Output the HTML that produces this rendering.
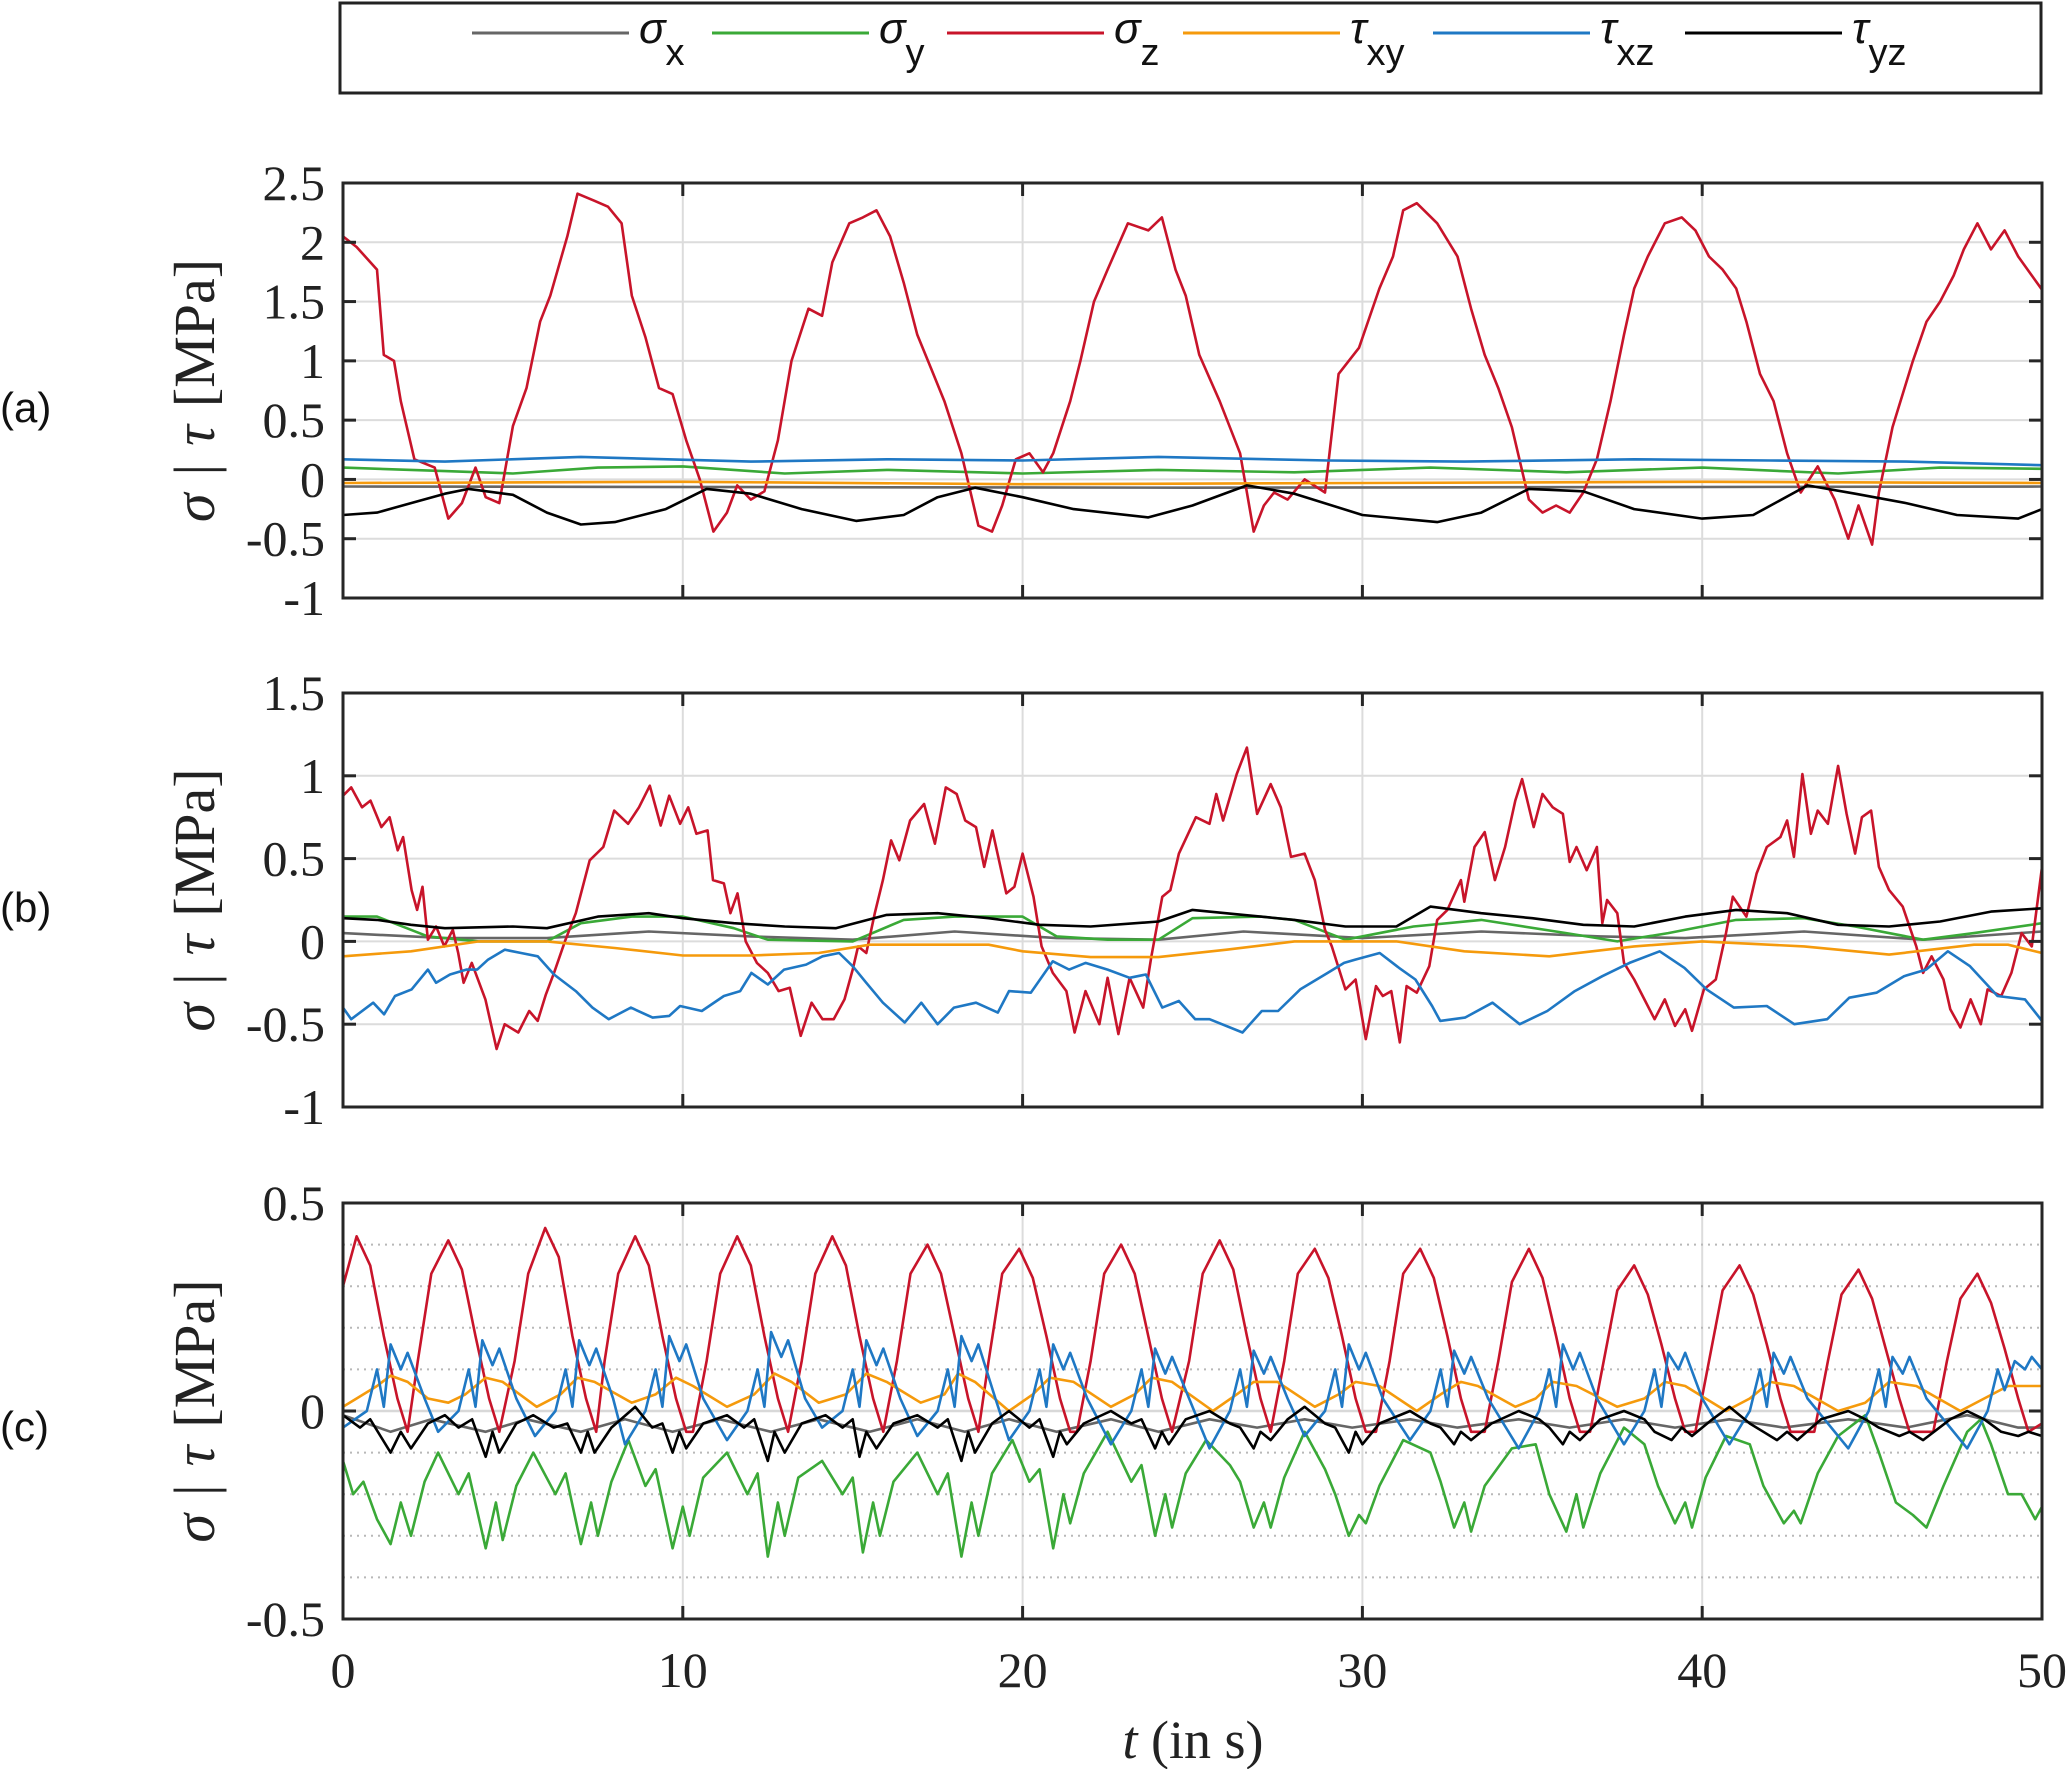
<!DOCTYPE html>
<html><head><meta charset="utf-8"><style>
html,body{margin:0;padding:0;background:#fff;}
svg{display:block;}
</style></head><body>
<svg id="fig" xmlns="http://www.w3.org/2000/svg" width="2067" height="1769" viewBox="0 0 2067 1769">
<rect x="0" y="0" width="2067" height="1769" fill="#fff"/>
<g id="legend">
<rect x="340" y="3" width="1701" height="90" fill="#fff" stroke="#222" stroke-width="3"/>
</g>
</svg>
<script>
// ---------- shared axis data ----------
const xTicks = [0, 10, 20, 30, 40, 50];
const yTicksA = [-1, -0.5, 0, 0.5, 1, 1.5, 2, 2.5];
const yTicksB = [-1, -0.5, 0, 0.5, 1, 1.5];
const yTicksC = [-0.5, 0, 0.5];
const yMinorC = [-0.4, -0.3, -0.2, -0.1, 0.1, 0.2, 0.3, 0.4];
const yLabelsA = ["-1", "-0.5", "0", "0.5", "1", "1.5", "2", "2.5"];
const yLabelsB = ["-1", "-0.5", "0", "0.5", "1", "1.5"];
const yLabelsC = ["-0.5", "0", "0.5"];
const seriesNames = ["sigma-x", "sigma-y", "sigma-z", "tau-xy", "tau-xz", "tau-yz"];
const legendMain = ["σ", "σ", "σ", "τ", "τ", "τ"];
const legendSub = ["x", "y", "z", "xy", "xz", "yz"];

// ---------- panel (a) ----------
const aRed_t = [0,0.4,1.0,1.2,1.5,1.7,2.1,2.7,3.1,3.5,3.9,4.2,4.6,5.0,5.4,5.8,6.1,6.6,6.9,7.4,7.8,8.2,8.5,8.9,9.3,9.7,10.1,10.5,10.9,11.3,11.6,12.0,12.4,12.8,13.2,13.7,14.1,14.4,14.9,15.3,15.7,16.1,16.5,16.9,17.3,17.7,18.2,18.7,19.1,19.4,19.8,20.2,20.6,20.9,21.4,21.7,22.1,22.5,23.1,23.7,24.1,24.5,24.8,25.2,25.8,26.4,26.8,27.1,27.4,27.8,28.3,28.9,29.3,29.9,30.5,30.9,31.2,31.6,32.2,32.8,33.2,33.6,34.0,34.4,34.9,35.3,35.7,36.1,36.5,36.9,37.3,37.7,38.0,38.4,38.9,39.4,39.8,40.2,40.6,41.0,41.3,41.7,42.1,42.5,42.9,43.4,43.9,44.3,44.6,45.0,45.2,45.6,46.2,46.6,47.0,47.4,47.7,48.1,48.5,48.9,49.3,49.7,50];
const aRed_v = [2.05,1.96,1.77,1.05,1.0,0.66,0.17,0.1,-0.33,-0.2,0.1,-0.15,-0.2,0.45,0.77,1.33,1.55,2.05,2.41,2.35,2.3,2.16,1.55,1.2,0.77,0.72,0.33,0.0,-0.44,-0.28,-0.05,-0.17,-0.1,0.33,1.0,1.44,1.38,1.83,2.16,2.21,2.27,2.05,1.66,1.22,0.94,0.66,0.22,-0.39,-0.44,-0.22,0.17,0.22,0.06,0.22,0.66,1.0,1.5,1.77,2.16,2.1,2.21,1.77,1.55,1.05,0.66,0.22,-0.44,-0.22,-0.11,-0.17,0.0,-0.11,0.89,1.11,1.61,1.88,2.27,2.33,2.16,1.88,1.44,1.05,0.77,0.44,-0.17,-0.28,-0.22,-0.28,-0.11,0.17,0.66,1.22,1.61,1.88,2.16,2.21,2.1,1.88,1.77,1.61,1.33,0.89,0.66,0.22,-0.11,0.11,-0.17,-0.5,-0.22,-0.55,-0.11,0.44,1.0,1.33,1.5,1.72,1.94,2.16,1.94,2.1,1.88,1.72,1.6];
const aBlue_t = [0,3,7,12,16,20,24,29,33,38,42,46,50];
const aBlue_v = [0.17,0.15,0.19,0.15,0.17,0.16,0.19,0.16,0.15,0.17,0.16,0.15,0.12];
const aGreen_t = [0,3,5,7.5,10,13,16,20,24,28,32,36,40,44,47,50];
const aGreen_v = [0.1,0.07,0.05,0.1,0.11,0.05,0.08,0.05,0.08,0.06,0.1,0.06,0.1,0.05,0.1,0.09];
const aOrange_t = [0,10,20,30,40,50];
const aOrange_v = [-0.03,-0.02,-0.04,-0.03,-0.02,-0.03];
const aGray_t = [0,25,50];
const aGray_v = [-0.06,-0.07,-0.06];
const aBlack_t = [0,1,2,3,3.7,5,6,7,8,9.5,10.7,12,13.5,15.1,16.5,17.5,18.6,20,21.5,23.7,25,26.6,28,30,32.2,33.5,34.9,36.5,38,40,41.5,43.1,44.5,46,47.5,49.3,50];
const aBlack_v = [-0.3,-0.28,-0.2,-0.12,-0.08,-0.13,-0.28,-0.38,-0.36,-0.25,-0.08,-0.12,-0.25,-0.35,-0.3,-0.15,-0.07,-0.15,-0.25,-0.32,-0.22,-0.05,-0.12,-0.3,-0.36,-0.28,-0.08,-0.1,-0.25,-0.33,-0.3,-0.05,-0.12,-0.2,-0.3,-0.33,-0.25];

// ---------- panel (b) ----------
const bRed_t = [0,0.24,0.56,0.81,1.13,1.37,1.61,1.77,2.02,2.18,2.34,2.5,2.74,2.98,3.23,3.39,3.55,3.79,4.19,4.52,4.76,5.16,5.48,5.73,5.97,6.21,6.53,6.85,7.26,7.66,7.98,8.39,8.71,9.03,9.35,9.6,9.92,10.16,10.4,10.73,10.89,11.21,11.4,11.61,11.85,12.18,12.5,12.82,13.15,13.47,13.79,14.11,14.44,14.76,15.0,15.16,15.4,15.65,15.89,16.13,16.37,16.69,17.1,17.42,17.74,18.06,18.31,18.63,18.87,19.11,19.52,19.76,20.0,20.32,20.56,20.89,21.29,21.53,21.85,22.26,22.5,22.82,23.15,23.55,23.79,24.11,24.35,24.6,25.1,25.5,25.7,25.9,26.3,26.6,26.9,27.3,27.6,27.9,28.3,28.6,28.9,29.1,29.5,29.8,30.1,30.4,30.6,30.85,31.1,31.3,31.6,31.97,32.2,32.5,32.9,33.0,33.3,33.6,33.9,34.2,34.5,34.7,35.04,35.3,35.6,35.9,36.1,36.3,36.6,36.9,37.06,37.2,37.5,37.7,38.0,38.3,38.6,38.9,39.2,39.5,39.7,40.05,40.4,40.7,40.9,41.3,41.6,41.9,42.3,42.5,42.7,42.95,43.2,43.4,43.7,44.0,44.25,44.5,44.7,44.97,45.2,45.5,45.9,46.3,46.5,46.75,47.1,47.3,47.6,47.9,48.2,48.4,48.8,49.1,49.4,49.7,50];
const bRed_v = [0.88,0.93,0.81,0.85,0.69,0.75,0.55,0.63,0.31,0.19,0.33,0.01,0.09,-0.03,0.07,-0.07,-0.25,-0.13,-0.35,-0.65,-0.5,-0.55,-0.42,-0.48,-0.32,-0.19,0.0,0.17,0.49,0.57,0.79,0.71,0.81,0.94,0.7,0.88,0.71,0.81,0.65,0.67,0.37,0.35,0.17,0.29,0.0,-0.13,-0.19,-0.3,-0.28,-0.57,-0.37,-0.47,-0.47,-0.35,-0.17,-0.03,-0.07,0.17,0.37,0.61,0.49,0.73,0.83,0.59,0.93,0.89,0.73,0.69,0.45,0.67,0.29,0.33,0.53,0.27,-0.03,-0.19,-0.3,-0.55,-0.3,-0.5,-0.22,-0.56,-0.22,-0.4,-0.09,0.27,0.31,0.53,0.75,0.71,0.89,0.73,1.01,1.17,0.77,0.95,0.81,0.51,0.53,0.37,0.07,-0.03,-0.29,-0.23,-0.59,-0.27,-0.33,-0.3,-0.61,-0.27,-0.31,-0.15,0.13,0.19,0.37,0.24,0.57,0.66,0.37,0.57,0.85,0.98,0.69,0.89,0.81,0.77,0.48,0.57,0.43,0.57,0.11,0.25,0.17,-0.13,-0.23,-0.35,-0.47,-0.35,-0.51,-0.41,-0.54,-0.29,-0.23,0.05,0.27,0.15,0.41,0.57,0.63,0.73,0.51,1.01,0.65,0.79,0.71,1.06,0.77,0.53,0.75,0.79,0.45,0.31,0.21,-0.03,-0.19,-0.09,-0.23,-0.41,-0.52,-0.35,-0.5,-0.29,-0.33,-0.19,0.05,-0.03,0.45];
const bBlue_t = [0,0.24,0.89,1.21,1.53,2.02,2.5,2.74,3.15,3.63,3.95,4.27,4.76,5.24,5.73,6.21,6.85,7.34,7.82,8.47,9.11,9.6,9.92,10.56,11.21,11.69,12.02,12.5,12.98,13.63,14.11,14.6,15.0,15.4,15.89,16.53,17.02,17.5,17.98,18.63,19.27,19.6,20.24,20.89,21.37,21.85,22.5,23.15,23.63,24.11,24.6,25.08,25.5,26.47,27.04,27.52,28.17,28.98,29.46,29.79,30.51,31.08,31.56,32.05,32.29,33.02,33.83,34.63,35.44,36.25,37.06,37.86,38.75,39.48,40.13,40.93,41.9,42.71,43.68,44.33,45.13,45.94,46.59,47.23,47.88,48.69,49.5,50];
const bBlue_v = [-0.4,-0.47,-0.37,-0.44,-0.33,-0.29,-0.17,-0.25,-0.2,-0.17,-0.17,-0.11,-0.05,-0.07,-0.09,-0.2,-0.3,-0.4,-0.47,-0.4,-0.46,-0.45,-0.39,-0.42,-0.33,-0.3,-0.19,-0.26,-0.17,-0.14,-0.09,-0.07,-0.15,-0.25,-0.37,-0.49,-0.37,-0.5,-0.4,-0.37,-0.43,-0.3,-0.31,-0.12,-0.17,-0.13,-0.17,-0.22,-0.2,-0.4,-0.36,-0.47,-0.47,-0.55,-0.42,-0.42,-0.29,-0.19,-0.13,-0.11,-0.07,-0.16,-0.23,-0.39,-0.48,-0.46,-0.37,-0.5,-0.42,-0.3,-0.21,-0.13,-0.06,-0.16,-0.29,-0.4,-0.39,-0.5,-0.47,-0.34,-0.31,-0.21,-0.17,-0.06,-0.15,-0.33,-0.35,-0.48];
const bBlack_t = [0,1,2,3,5,6,7.5,9,10,11.5,13,14.5,16,17.5,19,20.5,22,24,25,26.5,28,29.5,31,32,33.5,35,36.5,38,39.5,41,42.5,44,45.5,47,48.5,50];
const bBlack_v = [0.14,0.13,0.1,0.08,0.09,0.08,0.15,0.17,0.14,0.11,0.09,0.08,0.16,0.17,0.14,0.1,0.09,0.12,0.19,0.16,0.13,0.09,0.09,0.21,0.17,0.14,0.1,0.09,0.15,0.19,0.17,0.1,0.09,0.12,0.18,0.2];
const bGreen_t = [0,1,2.5,4,6,7,8.5,10,11.5,12.5,15,16.5,18,20,21,22.5,24,25,27,28,29.5,31.5,33.5,36,37.5,39,41,43,44.5,46.5,48,50];
const bGreen_v = [0.15,0.15,0.03,0.0,0.0,0.11,0.15,0.15,0.08,0.01,0.0,0.13,0.15,0.15,0.03,0.01,0.01,0.14,0.15,0.13,0.01,0.09,0.13,0.05,0.0,0.05,0.13,0.14,0.09,0.01,0.05,0.11];
const bGray_t = [0,3,6,9,12,15,18,21,24,26.5,30,33.5,37,39.5,43,46.5,50];
const bGray_v = [0.05,0.02,0.02,0.06,0.03,0.01,0.06,0.02,0.01,0.06,0.02,0.06,0.03,0.02,0.06,0.01,0.06];
const bOrange_t = [0,2,4,6,8,10,12,14,15.5,19,20,22,24,26,28,31,33,35.5,38,40,43,45.5,48,49,50];
const bOrange_v = [-0.09,-0.06,0.0,0.0,-0.04,-0.085,-0.085,-0.07,-0.02,-0.02,-0.06,-0.095,-0.095,-0.05,0.0,0.0,-0.06,-0.09,-0.03,0.0,-0.03,-0.08,-0.02,-0.02,-0.07];

// ---------- panel (c) ----------
const cRed_t = [0,0.4,0.8,1.2,1.6,1.9,2.2,2.6,3.1,3.5,3.9,4.3,4.6,5.05,5.45,5.95,6.35,6.75,7.15,7.45,7.7,8.1,8.6,9.0,9.4,9.8,10.1,10.3,10.7,11.1,11.6,12.0,12.4,12.8,13.1,13.5,13.9,14.4,14.8,15.2,15.6,15.9,16.3,16.7,17.2,17.6,18.0,18.4,18.7,19.0,19.4,19.9,20.3,20.7,21.1,21.4,21.6,22.0,22.4,22.9,23.3,23.7,24.1,24.4,24.9,25.3,25.8,26.2,26.6,27.0,27.3,27.7,28.1,28.6,29.0,29.4,29.8,30.1,30.4,30.8,31.2,31.7,32.1,32.5,32.9,33.2,33.6,34.0,34.4,34.9,35.3,35.7,36.1,36.4,36.7,37.1,37.5,38.0,38.4,38.8,39.2,39.5,39.8,40.2,40.6,41.1,41.5,41.9,42.3,42.6,43.3,43.7,44.1,44.6,45.0,45.4,45.8,46.1,46.8,47.2,47.6,48.1,48.5,48.9,49.3,49.6,50];
const cRed_v = [0.30,0.42,0.35,0.18,0.03,-0.05,0.12,0.33,0.41,0.34,0.18,0.03,-0.05,0.12,0.33,0.44,0.37,0.18,0.03,-0.05,0.12,0.33,0.42,0.35,0.18,0.03,-0.05,-0.05,0.12,0.33,0.42,0.35,0.18,0.03,-0.05,0.12,0.33,0.42,0.35,0.18,0.03,-0.05,0.12,0.33,0.40,0.33,0.18,0.03,-0.05,0.12,0.33,0.39,0.32,0.18,0.03,-0.05,-0.05,0.12,0.33,0.40,0.33,0.18,0.03,-0.05,0.12,0.33,0.41,0.34,0.18,0.03,-0.05,0.12,0.33,0.39,0.32,0.18,0.03,-0.05,-0.05,0.12,0.33,0.39,0.32,0.18,0.03,-0.05,-0.05,0.12,0.31,0.39,0.32,0.18,0.03,-0.05,-0.05,0.12,0.29,0.35,0.28,0.16,0.03,-0.05,-0.05,0.12,0.29,0.35,0.28,0.16,0.03,-0.05,-0.05,0.12,0.28,0.34,0.27,0.15,0.03,-0.05,-0.05,0.12,0.27,0.33,0.26,0.15,0.03,-0.05,-0.03];
const cBlue_t = [0,0.7,1.0,1.2,1.4,1.7,1.9,2.4,2.8,3.4,3.7,3.9,4.1,4.4,4.6,5.1,5.65,6.25,6.55,6.75,6.95,7.25,7.45,7.95,8.3,8.9,9.2,9.4,9.6,9.9,10.1,10.6,11.3,11.9,12.2,12.4,12.6,12.9,13.1,13.6,14.1,14.7,15.0,15.2,15.4,15.7,15.9,16.4,16.9,17.5,17.8,18.0,18.2,18.5,18.7,19.2,19.6,20.2,20.5,20.7,20.9,21.2,21.4,21.9,22.6,23.2,23.5,23.7,23.9,24.2,24.4,24.9,25.5,26.1,26.4,26.6,26.8,27.1,27.3,27.8,28.3,28.9,29.2,29.4,29.6,29.9,30.1,30.6,31.4,32.0,32.3,32.5,32.7,33.0,33.2,33.7,34.6,35.2,35.5,35.7,35.9,36.2,36.4,36.9,37.7,38.3,38.6,38.8,39.0,39.3,39.5,40.0,40.8,41.4,41.7,41.9,42.1,42.4,42.6,43.1,44.3,44.9,45.2,45.4,45.6,45.9,46.1,46.6,47.8,48.4,48.7,48.9,49.2,49.5,49.7,50];
const cBlue_v = [-0.04,0.0,0.1,0.01,0.16,0.1,0.14,0.03,-0.05,0.0,0.1,0.01,0.17,0.11,0.15,0.03,-0.06,0.0,0.1,0.01,0.17,0.11,0.15,0.03,-0.08,0.0,0.1,0.01,0.18,0.12,0.16,0.03,-0.07,0.0,0.1,0.01,0.19,0.13,0.17,0.03,-0.04,0.0,0.1,0.01,0.17,0.11,0.15,0.03,-0.06,0.0,0.1,0.01,0.18,0.12,0.16,0.03,-0.07,0.0,0.1,0.01,0.16,0.1,0.14,0.03,-0.08,0.0,0.1,0.01,0.15,0.09,0.13,0.03,-0.09,0.0,0.1,0.01,0.145,0.09,0.13,0.03,-0.06,0.0,0.1,0.01,0.16,0.1,0.14,0.03,-0.07,0.0,0.1,0.01,0.145,0.09,0.13,0.03,-0.09,0.0,0.1,0.01,0.16,0.1,0.14,0.03,-0.08,0.0,0.1,0.01,0.14,0.1,0.14,0.03,-0.08,0.0,0.1,0.01,0.14,0.09,0.13,0.03,-0.09,0.0,0.1,0.01,0.13,0.09,0.13,0.03,-0.09,0.0,0.1,0.05,0.12,0.1,0.13,0.1];
const cGreen_t = [0,0.3,0.6,1.0,1.4,1.7,2.0,2.4,2.8,3.4,3.7,4.2,4.5,4.7,5.1,5.6,6.25,6.55,7.0,7.3,7.5,7.9,8.4,8.9,9.2,9.7,10.0,10.2,10.6,11.3,11.9,12.2,12.5,12.8,13.0,13.4,14.1,14.7,15.0,15.3,15.6,15.8,16.2,16.9,17.5,17.8,18.2,18.5,18.7,19.1,19.7,20.2,20.5,20.9,21.2,21.4,21.8,22.5,23.2,23.5,23.9,24.2,24.4,24.8,25.4,26.1,26.4,26.8,27.1,27.3,27.7,28.3,28.9,29.2,29.6,29.9,30.1,30.5,31.2,32.0,32.3,32.7,33.0,33.2,33.6,34.4,35.1,35.5,36.0,36.3,36.5,37.0,37.7,38.3,38.7,39.2,39.5,39.7,40.1,40.7,41.4,41.8,42.4,42.7,42.9,43.4,44.0,44.8,45.2,45.7,46.2,46.6,47.1,47.8,48.2,48.5,49.0,49.4,49.8,50];
const cGreen_v = [-0.12,-0.2,-0.17,-0.26,-0.32,-0.22,-0.3,-0.17,-0.1,-0.2,-0.15,-0.33,-0.22,-0.31,-0.18,-0.1,-0.2,-0.15,-0.32,-0.22,-0.3,-0.17,-0.07,-0.18,-0.14,-0.33,-0.23,-0.3,-0.16,-0.1,-0.2,-0.15,-0.35,-0.22,-0.3,-0.16,-0.12,-0.2,-0.16,-0.34,-0.22,-0.3,-0.17,-0.1,-0.2,-0.15,-0.35,-0.22,-0.3,-0.15,-0.07,-0.17,-0.14,-0.33,-0.2,-0.27,-0.15,-0.05,-0.17,-0.13,-0.3,-0.2,-0.28,-0.15,-0.07,-0.13,-0.17,-0.28,-0.22,-0.28,-0.16,-0.05,-0.14,-0.2,-0.3,-0.25,-0.27,-0.18,-0.07,-0.1,-0.17,-0.28,-0.22,-0.29,-0.18,-0.09,-0.08,-0.2,-0.29,-0.2,-0.28,-0.15,-0.04,-0.08,-0.18,-0.27,-0.22,-0.28,-0.16,-0.06,-0.08,-0.18,-0.27,-0.24,-0.27,-0.15,-0.06,-0.01,-0.1,-0.22,-0.25,-0.28,-0.18,-0.05,-0.02,-0.08,-0.2,-0.2,-0.26,-0.23];
const cOrange_t = [0,0.4,1.0,1.4,1.9,2.5,3.1,3.6,4.2,4.7,5.7,6.4,6.9,7.4,8.5,9.2,9.8,10.3,11.3,12.1,12.7,13.2,14.0,14.8,15.4,16.0,17.0,17.7,18.1,18.6,19.6,20.3,20.8,21.5,22.6,23.3,23.8,24.4,25.6,26.3,26.8,27.5,28.6,29.3,29.8,30.5,31.6,32.3,32.9,33.4,34.5,35.1,35.6,36.3,37.5,38.3,38.9,39.5,40.7,41.4,42.0,42.7,44.0,44.8,45.5,46.3,47.6,48.3,49.0,50];
const cOrange_v = [0.01,0.03,0.06,0.085,0.07,0.03,0.02,0.04,0.08,0.07,0.01,0.04,0.08,0.07,0.02,0.04,0.08,0.06,0.01,0.04,0.09,0.07,0.02,0.04,0.09,0.07,0.02,0.04,0.09,0.07,0.0,0.04,0.08,0.07,0.01,0.04,0.08,0.07,0.0,0.04,0.07,0.07,0.01,0.04,0.07,0.06,0.0,0.04,0.07,0.06,0.01,0.03,0.07,0.06,0.01,0.03,0.07,0.06,0.0,0.03,0.07,0.06,0.0,0.02,0.07,0.06,0.0,0.03,0.06,0.06];
const cBlack_t = [0,0.5,0.8,1.4,1.7,2.0,2.5,3.0,3.4,3.8,4.2,4.4,4.6,5.1,5.6,6.2,6.6,7.0,7.2,7.4,7.9,8.6,9.1,9.4,9.7,9.9,10.1,10.6,11.3,11.8,12.1,12.5,12.7,13.0,13.5,14.2,14.7,15.0,15.2,15.4,15.7,16.2,16.9,17.5,17.8,18.2,18.4,18.6,19.1,19.6,20.2,20.5,20.9,21.1,21.3,21.8,22.6,23.2,23.5,23.9,24.1,24.3,24.8,25.5,26.1,26.4,26.8,27.0,27.3,27.8,28.3,28.9,29.2,29.6,29.8,30.0,30.5,31.4,32.0,32.3,32.7,32.9,33.2,33.8,34.6,35.2,35.5,35.9,36.1,36.4,37.0,37.7,38.3,38.6,39.1,39.4,39.7,40.3,40.8,41.4,41.8,42.2,42.5,42.8,43.5,44.3,44.8,45.2,45.8,46.1,46.5,47.3,47.8,48.3,48.8,49.3,49.6,50];
const cBlack_v = [-0.01,-0.04,-0.02,-0.1,-0.05,-0.09,-0.03,-0.01,-0.04,-0.02,-0.11,-0.05,-0.1,-0.03,-0.01,-0.04,-0.03,-0.1,-0.05,-0.1,-0.04,0.01,-0.04,-0.03,-0.1,-0.05,-0.09,-0.03,-0.01,-0.04,-0.02,-0.12,-0.05,-0.1,-0.03,-0.01,-0.04,-0.02,-0.11,-0.05,-0.09,-0.03,-0.01,-0.04,-0.02,-0.12,-0.05,-0.1,-0.03,0.0,-0.04,-0.02,-0.11,-0.05,-0.08,-0.03,0.0,-0.03,-0.02,-0.09,-0.05,-0.08,-0.02,0.0,-0.03,-0.04,-0.09,-0.05,-0.07,-0.02,0.01,-0.03,-0.04,-0.1,-0.05,-0.08,-0.03,0.0,-0.03,-0.04,-0.08,-0.05,-0.07,-0.03,0.0,-0.02,-0.04,-0.08,-0.05,-0.07,-0.02,0.0,-0.02,-0.05,-0.07,-0.04,-0.06,-0.02,0.01,-0.03,-0.05,-0.07,-0.05,-0.07,-0.02,0.0,-0.02,-0.04,-0.06,-0.05,-0.07,-0.02,0.0,-0.02,-0.05,-0.06,-0.05,-0.06];
const cGray_t = [0,1.4,2.6,4.2,5.4,7.0,8.3,9.7,11.1,12.6,14.0,15.5,16.9,18.3,19.6,21.0,22.6,24.0,25.5,26.9,28.3,29.7,31.4,32.8,34.6,36.1,37.7,39.2,40.8,42.4,44.3,46.0,47.8,49.3,50];
const cGray_v = [-0.01,-0.05,-0.02,-0.05,-0.02,-0.05,-0.02,-0.05,-0.02,-0.05,-0.02,-0.05,-0.02,-0.05,-0.02,-0.05,-0.02,-0.05,-0.02,-0.04,-0.02,-0.04,-0.02,-0.04,-0.02,-0.04,-0.02,-0.04,-0.02,-0.04,-0.02,-0.04,-0.01,-0.04,-0.04];

// ---------- drawing ----------
const NS = "http://www.w3.org/2000/svg";
const svg = document.getElementById("fig");
const X0 = 343, X1 = 2042, T0 = 0, T1 = 50;
const COLORS = {gray:"#666666", green:"#3aa937", red:"#c8142a", orange:"#f59a0c", blue:"#1f78c4", black:"#000000"};
const legendColors = [COLORS.gray, COLORS.green, COLORS.red, COLORS.orange, COLORS.blue, COLORS.black];
function sx(t){ return X0 + (t - T0) / (T1 - T0) * (X1 - X0); }
function mk(tag, attrs, parent){
  const e = document.createElementNS(NS, tag);
  for (const k in attrs) e.setAttribute(k, attrs[k]);
  (parent || svg).appendChild(e);
  return e;
}

const panels = [
  {id:"a", top:183, bot:598, min:-1, max:2.5, ticks:yTicksA, labels:yLabelsA, letterY:422,
   series:[[aGray_t,aGray_v,"gray","sigma-x"],[aGreen_t,aGreen_v,"green","sigma-y"],[aRed_t,aRed_v,"red","sigma-z"],[aOrange_t,aOrange_v,"orange","tau-xy"],[aBlue_t,aBlue_v,"blue","tau-xz"],[aBlack_t,aBlack_v,"black","tau-yz"]]},
  {id:"b", top:693, bot:1107, min:-1, max:1.5, ticks:yTicksB, labels:yLabelsB, letterY:922,
   series:[[bGray_t,bGray_v,"gray","sigma-x"],[bGreen_t,bGreen_v,"green","sigma-y"],[bRed_t,bRed_v,"red","sigma-z"],[bOrange_t,bOrange_v,"orange","tau-xy"],[bBlue_t,bBlue_v,"blue","tau-xz"],[bBlack_t,bBlack_v,"black","tau-yz"]]},
  {id:"c", top:1203, bot:1619, min:-0.5, max:0.5, ticks:yTicksC, labels:yLabelsC, letterY:1441, minor:yMinorC,
   series:[[cGray_t,cGray_v,"gray","sigma-x"],[cGreen_t,cGreen_v,"green","sigma-y"],[cRed_t,cRed_v,"red","sigma-z"],[cOrange_t,cOrange_v,"orange","tau-xy"],[cBlue_t,cBlue_v,"blue","tau-xz"],[cBlack_t,cBlack_v,"black","tau-yz"]]}
];

panels.forEach(function(p){
  const sy = function(v){ return p.bot - (v - p.min) / (p.max - p.min) * (p.bot - p.top); };
  const g = mk("g", {});
  
  
  const clip = mk("clipPath", {id:"clip-" + p.id}, g);
  mk("rect", {x:X0, y:p.top, width:X1 - X0, height:p.bot - p.top}, clip);

  const grid = mk("g", {}, g);
  
  
  xTicks.forEach(function(t){
    if (t === T0 || t === T1) return;
    mk("line", {x1:sx(t), x2:sx(t), y1:p.top, y2:p.bot, stroke:"#dcdcdc", "stroke-width":2}, grid);
  });
  if (p.minor) {
    p.minor.forEach(function(v){
      mk("line", {x1:X0, x2:X1, y1:sy(v), y2:sy(v), stroke:"#b8b8b8", "stroke-width":2, "stroke-dasharray":"2 5"}, grid);
    });
    mk("line", {x1:X0, x2:X1, y1:sy(0), y2:sy(0), stroke:"#d8d8d8", "stroke-width":2.5}, grid);
  } else {
    p.ticks.forEach(function(v){
      if (v === p.min || v === p.max) return;
      mk("line", {x1:X0, x2:X1, y1:sy(v), y2:sy(v), stroke:"#dcdcdc", "stroke-width":2}, grid);
    });
  }

  const sg = mk("g", {"clip-path":"url(#clip-" + p.id + ")"}, g);
  p.series.forEach(function(s){
    const ts = s[0], vs = s[1];
    let d = "";
    for (let i = 0; i < ts.length; i++) d += (i ? "L" : "M") + sx(ts[i]).toFixed(1) + "," + sy(vs[i]).toFixed(1);
    const path = mk("path", {d:d, fill:"none", stroke:COLORS[s[2]], "stroke-width":2.6, "stroke-linejoin":"round", "stroke-linecap":"round"}, sg);
    
    
  });

  const frame = mk("rect", {x:X0, y:p.top, width:X1 - X0, height:p.bot - p.top, fill:"none", stroke:"#262626", "stroke-width":3}, g);
  
  

  p.ticks.forEach(function(v, i){
    const y = sy(v);
    mk("line", {x1:X0, x2:X0 + 13, y1:y, y2:y, stroke:"#262626", "stroke-width":3}, g);
    mk("line", {x1:X1 - 13, x2:X1, y1:y, y2:y, stroke:"#262626", "stroke-width":3}, g);
    const tl = mk("text", {x:X0 - 18, y:y + 17, "text-anchor":"end", "font-family":"'Liberation Serif', serif", "font-size":50, fill:"#222"}, g);
    tl.textContent = p.labels[i];
    
    
  });
  xTicks.forEach(function(t){
    if (t === T0 || t === T1) return;
    mk("line", {x1:sx(t), x2:sx(t), y1:p.top, y2:p.top + 13, stroke:"#262626", "stroke-width":3}, g);
    mk("line", {x1:sx(t), x2:sx(t), y1:p.bot - 13, y2:p.bot, stroke:"#262626", "stroke-width":3}, g);
  });

  const cy = (p.top + p.bot) / 2;
  const yt = mk("text", {x:0, y:0, transform:"translate(214," + cy + ") rotate(-90)", "text-anchor":"middle", "font-family":"'Liberation Serif', serif", "font-size":58, fill:"#222"}, g);
  yt.innerHTML = '<tspan font-style="italic">σ</tspan><tspan dx="18">|</tspan><tspan dx="18" font-style="italic">τ</tspan><tspan dx="18">[MPa]</tspan>';
  
  

  const pl = mk("text", {x:0, y:p.letterY, "font-family":"'Liberation Sans', sans-serif", "font-size":42, fill:"#111"}, g);
  pl.textContent = "(" + p.id + ")";
  
  
});

xTicks.forEach(function(t){
  const tl = mk("text", {x:sx(t), y:1687, "text-anchor":"middle", "font-family":"'Liberation Serif', serif", "font-size":50, fill:"#222"});
  tl.textContent = String(t);
  
  
});
const xt = mk("text", {x:1193, y:1758, "text-anchor":"middle", "font-family":"'Liberation Serif', serif", "font-size":54, fill:"#222"});
xt.innerHTML = '<tspan font-style="italic">t</tspan> (in s)';



const legend = document.getElementById("legend");
const legendStarts = [472, 712, 947, 1183, 1433, 1685];
legendMain.forEach(function(m, i){
  const eg = mk("g", {}, legend);
  
  
  const x = legendStarts[i];
  mk("line", {x1:x, x2:x + 157, y1:33, y2:33, stroke:legendColors[i], "stroke-width":3}, eg);
  const tx = mk("text", {x:x + 167, y:43, "font-family":"'Liberation Sans', sans-serif", "font-size":44, fill:"#111"}, eg);
  tx.innerHTML = '<tspan font-style="italic">' + m + '</tspan><tspan dy="22" font-size="38">' + legendSub[i] + '</tspan>';
});
</script>
</body></html>
